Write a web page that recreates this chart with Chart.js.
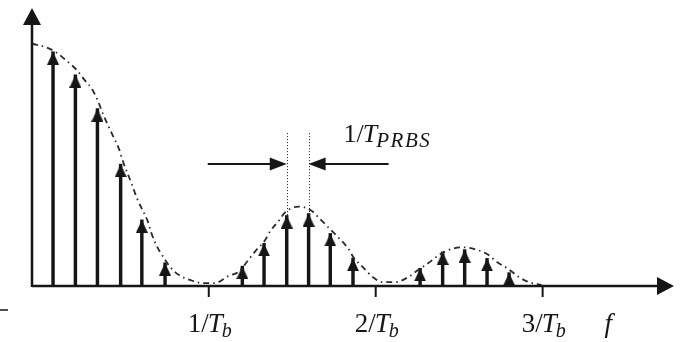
<!DOCTYPE html>
<html lang="en">
<head>
<meta charset="UTF-8">
<title>PRBS line spectrum</title>
<script src="https://cdn.jsdelivr.net/npm/chart.js"></script>
<style>
  html, body { margin: 0; padding: 0; background: #fff; }
</style>
</head>
<body>
<canvas id="spectrum" width="682" height="342"></canvas>
<script>
// frequency is in units of 1/Tb, amplitude normalised to the envelope at DC
const lineFreq = [0.067, 0.201, 0.333, 0.472, 0.599, 0.738,
                  1.201, 1.331, 1.467, 1.598, 1.728, 1.864,
                  2.266, 2.401, 2.533, 2.667, 2.799];
const lineAmp  = [0.967, 0.872, 0.732, 0.503, 0.273, 0.096,
                  0.082, 0.176, 0.291, 0.299, 0.217, 0.115,
                  0.073, 0.141, 0.150, 0.114, 0.055];

// sinc^2 envelope (dash-dot)
const envFreq = [-0.059, 0.030, 0.089, 0.154, 0.207, 0.254, 0.302, 0.337, 0.367,
                 0.396, 0.432, 0.462, 0.485, 0.538, 0.568, 0.598, 0.633, 0.657,
                 0.686, 0.728, 0.769, 0.822, 0.888, 0.964, 1.036, 1.118, 1.183,
                 1.231, 1.278, 1.337, 1.367, 1.420, 1.456, 1.538, 1.615, 1.663,
                 1.722, 1.781, 1.834, 1.870, 1.923, 1.982, 2.041, 2.118, 2.195,
                 2.254, 2.314, 2.385, 2.450, 2.515, 2.592, 2.669, 2.728, 2.787,
                 2.858, 2.917, 2.994];
const envAmp  = [1.000, 0.984, 0.963, 0.926, 0.893, 0.852, 0.811, 0.762, 0.709,
                 0.664, 0.611, 0.566, 0.516, 0.422, 0.365, 0.320, 0.270, 0.217,
                 0.168, 0.119, 0.078, 0.045, 0.025, 0.012, 0.012, 0.041, 0.061,
                 0.102, 0.143, 0.189, 0.225, 0.270, 0.303, 0.328, 0.311, 0.279,
                 0.238, 0.197, 0.156, 0.115, 0.078, 0.037, 0.016, 0.016, 0.037,
                 0.066, 0.094, 0.131, 0.152, 0.160, 0.152, 0.131, 0.098, 0.074,
                 0.037, 0.016, 0.004];

const tickFreq = [1, 2, 3];
const tickNum  = ['1', '2', '3'];
const axisLabelFreq = 3.37;

// the two neighbouring lines marked with the 1/T_PRBS spacing
const prbsPair = [8, 9];
const prbsArrowAmp = 0.504;
const prbsGuideTop = 0.631;

const fMin = -0.059, fMax = 3.787, ampMax = 1.1475;
const INK = '#161616';
const SERIF = '"Liberation Serif", "DejaVu Serif", serif';

// arrow head used as point style: tip sits on the data point
function makeHead(w, h) {
  const c = document.createElement('canvas');
  c.width = w; c.height = h * 2;
  const g = c.getContext('2d');
  g.fillStyle = INK;
  g.beginPath();
  g.moveTo(w / 2, h);
  g.lineTo(w, h * 2);
  g.lineTo(0, h * 2);
  g.closePath();
  g.fill();
  return c;
}
const head = makeHead(12, 13);

function arrowHead(ctx, x, y, dx, dy, len, half) {
  // filled head with tip at (x, y) pointing along (dx, dy)
  const px = -dy, py = dx;
  ctx.beginPath();
  ctx.moveTo(x, y);
  ctx.lineTo(x - dx * len + px * half, y - dy * len + py * half);
  ctx.lineTo(x - dx * len - px * half, y - dy * len - py * half);
  ctx.closePath();
  ctx.fill();
}

function drawFrac(ctx, num, sub, x, y, size, subSize, subSpacing) {
  ctx.textBaseline = 'alphabetic';
  ctx.textAlign = 'left';
  ctx.font = size + 'px ' + SERIF;
  const a = num + '/';
  ctx.fillText(a, x, y);
  let cx = x + ctx.measureText(a).width - 1;
  ctx.font = 'italic ' + size + 'px ' + SERIF;
  ctx.fillText('T', cx, y);
  cx += ctx.measureText('T').width - 1;
  ctx.font = 'italic ' + subSize + 'px ' + SERIF;
  ctx.letterSpacing = (subSpacing || 0) + 'px';
  ctx.fillText(sub, cx, y + size * 0.2);
  ctx.letterSpacing = '0px';
}

const decor = {
  id: 'decor',
  afterDatasetsDraw(chart) {
    const { ctx, chartArea: ca } = chart;
    const xs = chart.scales.x, ys = chart.scales.y;
    const y0 = ys.getPixelForValue(0);
    ctx.save();
    ctx.strokeStyle = INK;
    ctx.fillStyle = INK;
    ctx.lineCap = 'butt';

    // axes with arrow heads
    ctx.lineWidth = 2.5;
    ctx.beginPath();
    ctx.moveTo(ca.left, y0);
    ctx.lineTo(ca.right - 14, y0);
    ctx.moveTo(ca.left, y0 + 1);
    ctx.lineTo(ca.left, ca.top + 14);
    ctx.stroke();
    arrowHead(ctx, ca.right, y0, 1, 0, 17, 9);
    arrowHead(ctx, ca.left, ca.top, 0, -1, 17, 9);

    // stray rule at the lower left
    ctx.lineWidth = 1.5;
    ctx.beginPath();
    ctx.moveTo(ca.left - 32, y0 + 24);
    ctx.lineTo(ca.left - 24, y0 + 24);
    ctx.stroke();

    // tick marks and labels
    ctx.lineWidth = 2;
    tickFreq.forEach((f, i) => {
      const x = xs.getPixelForValue(f);
      ctx.beginPath();
      ctx.moveTo(x, y0);
      ctx.lineTo(x, y0 + 11);
      ctx.stroke();
      drawFrac(ctx, tickNum[i], 'b', x - 21, y0 + 46, 27, 20, 0);
    });
    ctx.font = 'italic 27px ' + SERIF;
    ctx.fillText('f', xs.getPixelForValue(axisLabelFreq), y0 + 46);

    // 1/T_PRBS spacing marker
    const xa = xs.getPixelForValue(lineFreq[prbsPair[0]]);
    const xb = xs.getPixelForValue(lineFreq[prbsPair[1]]);
    const ya = ys.getPixelForValue(prbsArrowAmp);
    const yTop = ys.getPixelForValue(prbsGuideTop);
    ctx.lineWidth = 1;
    ctx.setLineDash([1, 2]);
    [prbsPair[0], prbsPair[1]].forEach(i => {
      const x = Math.round(xs.getPixelForValue(lineFreq[i])) + 0.5;
      ctx.beginPath();
      ctx.moveTo(x, yTop);
      ctx.lineTo(x, ys.getPixelForValue(lineAmp[i]));
      ctx.stroke();
    });
    ctx.setLineDash([]);
    ctx.lineWidth = 2;
    ctx.beginPath();
    ctx.moveTo(xa - 79, ya);
    ctx.lineTo(xa - 12, ya);
    ctx.moveTo(xb + 80, ya);
    ctx.lineTo(xb + 12, ya);
    ctx.stroke();
    arrowHead(ctx, xa, ya, 1, 0, 17, 6.5);
    arrowHead(ctx, xb, ya, -1, 0, 17, 6.5);
    drawFrac(ctx, '1', 'PRBS', xb + 35, yTop + 9, 26, 21, 1.5);

    ctx.restore();
  }
};

new Chart(document.getElementById('spectrum'), {
  type: 'scatter',
  data: {
    datasets: [
      {
        type: 'line',
        label: 'envelope',
        data: envFreq.map((f, i) => ({ x: f, y: envAmp[i] })),
        borderColor: '#2a2a2a',
        borderWidth: 1.8,
        borderDash: [6, 4, 1.5, 4],
        pointRadius: 0,
        cubicInterpolationMode: 'monotone',
        fill: false
      },
      {
        type: 'bar',
        label: 'spectral lines',
        data: lineFreq.map((f, i) => ({ x: f, y: lineAmp[i] })),
        backgroundColor: INK,
        barThickness: 2.8,
        borderWidth: 0
      },
      {
        type: 'scatter',
        label: 'heads',
        data: lineFreq.map((f, i) => ({ x: f, y: lineAmp[i] })),
        pointStyle: head,
        pointRadius: 7,
        clip: false
      }
    ]
  },
  options: {
    responsive: false,
    animation: false,
    layout: { padding: { left: 32, right: 0, top: 6, bottom: 56 } },
    plugins: { legend: { display: false }, tooltip: { enabled: false } },
    scales: {
      x: { type: 'linear', min: fMin, max: fMax, offset: false, display: false },
      y: { type: 'linear', min: 0, max: ampMax, display: false }
    }
  },
  plugins: [decor]
});
</script>
</body>
</html>
